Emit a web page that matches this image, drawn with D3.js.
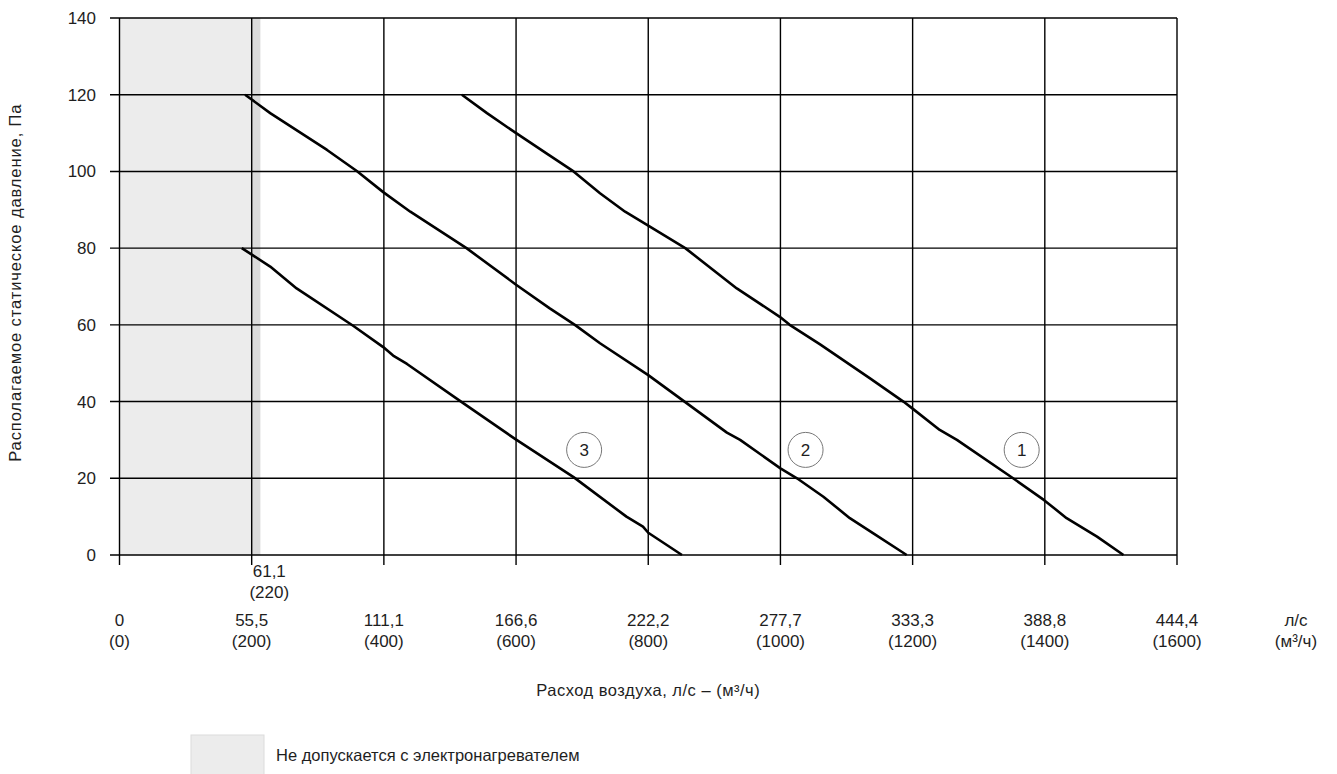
<!DOCTYPE html>
<meta charset="utf-8">
<title>Располагаемое статическое давление</title>
<style>
body { margin: 0; background: #fff; }
svg text { font-family: "Liberation Sans", Arial, Helvetica, sans-serif; fill: #1e1e1e; }
.grid line { stroke: #000; stroke-width: 1.4px; }
.curve { fill: none; stroke: #000; stroke-width: 2.6px; stroke-linejoin: round; }
.tag circle { fill: #fff; stroke: #777; stroke-width: 1px; }
</style>
<body>
<div id="chart"></div>
<script src="https://cdn.jsdelivr.net/npm/d3@7"></script>
<script>

// data
const flowTicks = [0, 200, 400, 600, 800, 1000, 1200, 1400, 1600];          // м³/ч
const litreLabels = ["0", "55,5", "111,1", "166,6", "222,2", "277,7", "333,3", "388,8", "444,4"];
const pressureTicks = [0, 20, 40, 60, 80, 100, 120, 140];

const limitFlow = 213;        // end of grey "not allowed" zone
const limitLabel = ["61,1", "(220)"];

// [м³/ч, Па]
const curve1 = [[518,120],[556,115.2],[599,110.1],[646,104.7],[687,100],[727,94.3],[765,89.5],[800,85.9],[856,80],[934,69.5],[999,62.1],[1014,60],[1060,54.9],[1135,46.1],[1186,40],[1199,38.3],[1241,32.6],[1267,30],[1352,20],[1399,14.3],[1433,9.6],[1479,4.8],[1519,0]];
const curve2 = [[190,120],[228,115.2],[314,105.6],[359,100.1],[399,94.6],[440,89.5],[525,80],[599,70.6],[651,64.3],[689,60],[727,55.2],[800,46.9],[858,39.6],[919,31.9],[939,30],[1000,22.6],[1025,20],[1065,15.2],[1105,9.6],[1140,5.7],[1191,0]];
const curve3 = [[185,80],[228,75.2],[268,69.5],[354,59.7],[399,54.2],[414,52],[435,49.8],[520,39.6],[599,30.2],[687,20.3],[767,10],[792,7.4],[800,5.8],[851,0]];
const curveNames = ["1", "2", "3"];
const tagFlows = [1365, 1038, 703];
const tagPressure = 27.4;

const yTitle = "Располагаемое статическое давление, Па";
const xTitle = "Расход воздуха, л/с – (м³/ч)";
const unitLabels = ["л/с", "(м³/ч)"];
const legendText = "Не допускается с электронагревателем";

// chart
const width = 1337, height = 774;
const svg = d3.select("#chart").append("svg")
    .attr("width", width)
    .attr("height", height);

const x = d3.scaleLinear().domain([0, 1600]).range([119.5, 1177]);
const y = d3.scaleLinear().domain([0, 140]).range([555, 18]);

// shaded zone
svg.append("rect")
    .attr("x", x(0)).attr("y", y(140))
    .attr("width", x(limitFlow) - x(0)).attr("height", y(0) - y(140))
    .attr("fill", "#ececec");
svg.append("rect")
    .attr("x", x(200)).attr("y", y(140))
    .attr("width", x(limitFlow) - x(200)).attr("height", y(0) - y(140))
    .attr("fill", "#dadada");

// grid
const grid = svg.append("g").attr("class", "grid");
grid.selectAll(".h").data(pressureTicks).enter().append("line")
    .attr("x1", x(0) - 9.5).attr("x2", x(1600))
    .attr("y1", d => y(d)).attr("y2", d => y(d));
grid.selectAll(".v").data(flowTicks).enter().append("line")
    .attr("x1", d => x(d)).attr("x2", d => x(d))
    .attr("y1", y(140)).attr("y2", y(0) + 10);

// y tick labels
svg.selectAll(".ytick").data(pressureTicks).enter().append("text")
    .attr("x", 96).attr("y", d => y(d) + 6)
    .attr("text-anchor", "end")
    .style("font-size", "17px")
    .text(d => d);

// x tick labels (л/с over м³/ч)
const xl = svg.selectAll(".xtick").data(flowTicks).enter().append("g")
    .attr("transform", d => `translate(${x(d)},0)`);
xl.append("text").attr("y", 626).attr("text-anchor", "middle")
    .style("font-size", "17px").text((d, i) => litreLabels[i]);
xl.append("text").attr("y", 647).attr("text-anchor", "middle")
    .style("font-size", "17px").text(d => "(" + d + ")");

svg.append("text").attr("x", x(1600) + 119).attr("y", 626).attr("text-anchor", "middle")
    .style("font-size", "17px").text(unitLabels[0]);
svg.append("text").attr("x", x(1600) + 119).attr("y", 647).attr("text-anchor", "middle")
    .style("font-size", "17px").text(unitLabels[1]);

// limit label
svg.append("text").attr("x", x(limitFlow) + 9).attr("y", 577).attr("text-anchor", "middle")
    .style("font-size", "17px").text(limitLabel[0]);
svg.append("text").attr("x", x(limitFlow) + 9).attr("y", 598).attr("text-anchor", "middle")
    .style("font-size", "17px").text(limitLabel[1]);

// curves
const line = d3.line().x(d => x(d[0])).y(d => y(d[1]));
svg.selectAll(".curve").data([curve1, curve2, curve3]).enter().append("path")
    .attr("class", "curve")
    .attr("d", line);

// curve tags
const tag = svg.selectAll(".tag").data(curveNames).enter().append("g")
    .attr("class", "tag")
    .attr("transform", (d, i) => `translate(${x(tagFlows[i])},${y(tagPressure)})`);
tag.append("circle").attr("r", 17.5);
tag.append("text").attr("y", 6).attr("text-anchor", "middle")
    .style("font-size", "17px").text(d => d);

// titles
svg.append("text")
    .attr("transform", `translate(21,${y(71)}) rotate(-90)`)
    .attr("text-anchor", "middle")
    .style("font-size", "16.5px")
    .style("letter-spacing", "0.9px")
    .text(yTitle);
svg.append("text")
    .attr("x", x(800)).attr("y", 696)
    .attr("text-anchor", "middle")
    .style("font-size", "16.5px")
    .style("letter-spacing", "0.5px")
    .text(xTitle);

// legend
svg.append("rect")
    .attr("x", 191).attr("y", 735).attr("width", 73).attr("height", 45)
    .attr("fill", "#ececec").attr("stroke", "#dcdcdc").attr("stroke-width", 1);
svg.append("text")
    .attr("x", 276).attr("y", 761)
    .style("font-size", "16.5px")
    .text(legendText);

</script>
</body>
</html>
